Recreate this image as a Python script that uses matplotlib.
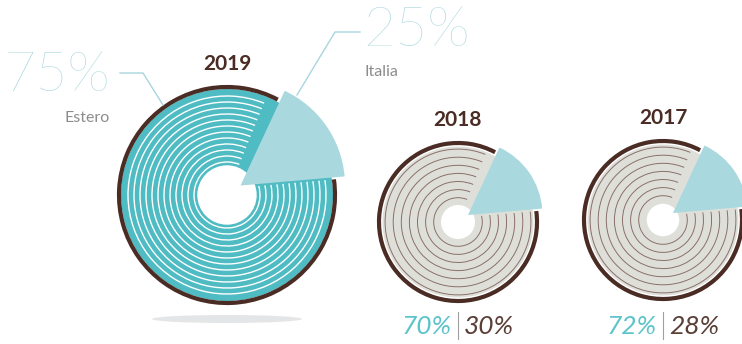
import numpy as np
import matplotlib
matplotlib.use('Agg')
import matplotlib.pyplot as plt
from matplotlib.patches import Circle, Wedge, Arc, Ellipse

W, H = 742, 344

# data
years = ['2019', '2018', '2017']
estero = [75, 70, 72]   # % estero
italia = [25, 30, 28]   # % italia

# layout (pixels, y from top)
centers = [(227, 195), (458, 222), (663, 220)]
radii = [110, 81, 81]
holes = [0.27, 0.21, 0.20]
n_grooves = [12, 7, 7]
faces = ['#4fbbc3', '#dfdfda', '#dfdfda']
groove_cols = ['white', '#8a6f69', '#8a6f69']
groove_lw = [1.0, 0.7, 0.7]

teal = '#4fbbc3'
wedge_col = '#aad8df'
brown = '#4a2c24'
label_blue = '#a8d6de'

# the italia slice is drawn at a fixed size, like the original infographic
sl_start, sl_end = 5, 65
explode = 0.15

plt.rcParams['font.family'] = ['Lato', 'DejaVu Sans']

fig = plt.figure(figsize=(W / 100, H / 100), dpi=100)
ax = fig.add_axes([0, 0, 1, 1])
ax.set_xlim(0, W)
ax.set_ylim(0, H)
ax.set_aspect('equal')
ax.axis('off')


def Y(y):
    return H - y


def bottom_angle(r, d, gap=2.0):
    # arcs stop along a line just below the slice's lower edge
    c = d * np.sin(np.radians((sl_end - sl_start) / 2)) - gap
    return sl_start + np.degrees(np.arcsin(min(c / r, 1)))


# shadow under the big disc
ax.add_patch(Ellipse((227, Y(319)), 150, 8, color='#e4e5e6', lw=0, zorder=0))

for i, yr in enumerate(years):
    cx, cy = centers[i]
    cy = Y(cy)
    R = radii[i]
    ring_w = 4.0
    d = explode * R
    gray = i > 0
    face_r = R - ring_w - (1.5 if gray else 0)
    ax.add_patch(Circle((cx, cy), face_r, color=faces[i], lw=0, zorder=1))

    # outer ring with the gap where the slice comes out
    rr = R - ring_w / 2
    ax.add_patch(Arc((cx, cy), 2 * rr, 2 * rr, theta1=62, theta2=360 + bottom_angle(rr, d),
                     color=brown, lw=ring_w * 0.75, zorder=2))

    # grooves
    rs = np.linspace(0.30 * R, 0.90 * R, n_grooves[i])
    for r in rs:
        ax.add_patch(Arc((cx, cy), 2 * r, 2 * r, theta1=68, theta2=360 + bottom_angle(r, d),
                         color=groove_cols[i], lw=groove_lw[i], zorder=2))

    # hole
    ax.add_patch(Circle((cx, cy), holes[i] * R, color='white', lw=0, zorder=3))

    # italia slice, exploded
    mid = np.radians((sl_start + sl_end) / 2)
    ax.add_patch(Wedge((cx + d * np.cos(mid), cy + d * np.sin(mid)),
                       (0.95 if i == 0 else 0.92) * R, sl_start, sl_end,
                       color=wedge_col, lw=0, zorder=4))

    # year title
    ax.text(cx, cy + R + 21, yr, ha='center', va='center', fontsize=15,
            fontweight='bold', color=brown, zorder=5)

    if i > 0:
        ax.text(cx - 6, Y(326), f'{estero[i]}%', ha='right', va='center', fontsize=19,
                fontstyle='italic', fontweight='normal', color='#5cc3cb')
        ax.text(cx + 6, Y(326), f'{italia[i]}%', ha='left', va='center', fontsize=19,
                fontstyle='italic', fontweight='normal', color='#5a3f37')
        ax.plot([cx, cx], [Y(312), Y(339)], color='#a0a0a0', lw=0.8)

# big labels for 2019
ax.text(110, Y(77), f'{estero[0]}%', ha='right', va='center', fontsize=40,
        fontweight=200, color=label_blue)
ax.text(110, Y(118), 'Estero', ha='right', va='center', fontsize=11.5,
        color='#8c8c8c')
ax.plot([120, 143, 163], [Y(73), Y(73), Y(105)], color=label_blue, lw=1.0)

ax.text(363, Y(31), f'{italia[0]}%', ha='left', va='center', fontsize=40,
        fontweight=200, color=label_blue)
ax.text(365, Y(72), 'Italia', ha='left', va='center', fontsize=11.5,
        color='#8c8c8c')
ax.plot([360, 335, 297], [Y(32), Y(32), Y(95)], color=label_blue, lw=1.0)

plt.savefig('out.png', dpi=100)
